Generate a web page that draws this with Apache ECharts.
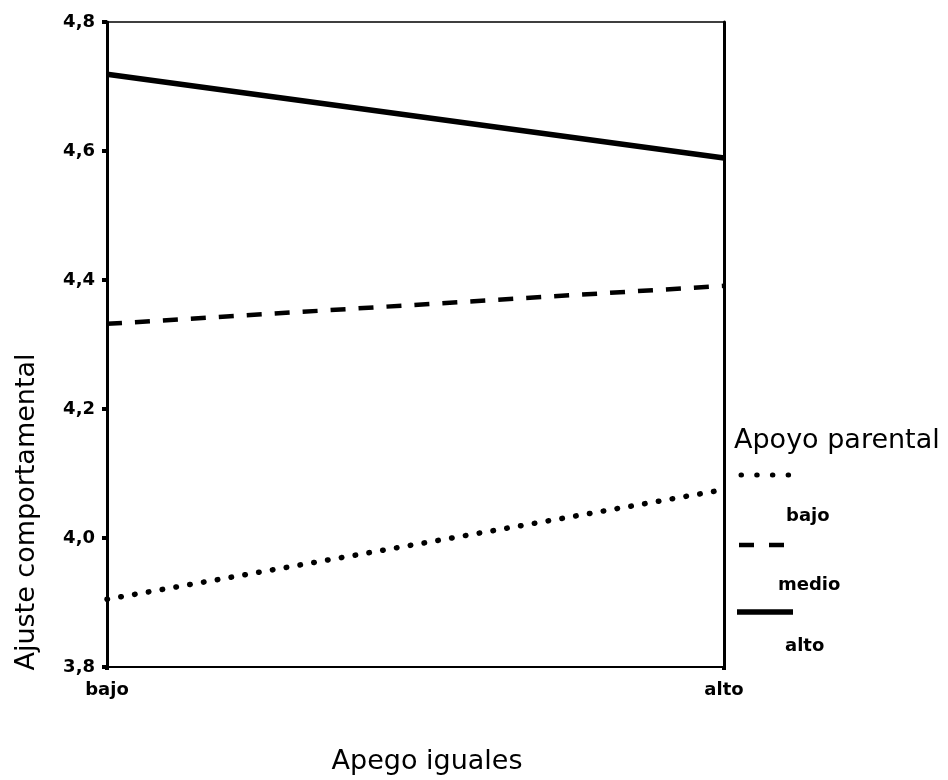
<!DOCTYPE html>
<html>
<head>
<meta charset="utf-8">
<script src="https://cdn.jsdelivr.net/npm/echarts@6/dist/echarts.min.js"></script>
<style>
  html, body { margin: 0; padding: 0; background: #ffffff; }
  #chart { width: 948px; height: 780px; }
</style>
</head>
<body>
<div id="chart"></div>
<script>
// ---- data ----
var categories = ['bajo', 'alto'];
var seriesNames = ['bajo', 'medio', 'alto'];
var bajoValues = [3.905, 4.075];
var medioValues = [4.332, 4.391];
var altoValues = [4.719, 4.589];
var yMin = 3.8, yMax = 4.8, yStep = 0.2;
var xAxisTitle = 'Apego iguales';
var yAxisTitle = 'Ajuste comportamental';
var legendTitle = 'Apoyo parental';

var FONT = 'DejaVu Sans';
var dotted = { color: '#000', width: 5.5, type: [0.5, 13.5], cap: 'round' };
var dashed = { color: '#000', width: 4.5, type: [15, 13], cap: 'butt' };
var solid = { color: '#000', width: 5.5, type: 'solid' };

var chart = echarts.init(document.getElementById('chart'), null, { renderer: 'canvas' });

var option = {
  backgroundColor: '#ffffff',
  animation: false,
  grid: { left: 107, right: 224, top: 22, bottom: 113, show: true, borderColor: '#000', borderWidth: 1.5, backgroundColor: 'transparent' },
  xAxis: {
    type: 'category',
    data: categories,
    boundaryGap: false,
    axisLine: { lineStyle: { color: '#000', width: 2 } },
    axisTick: { show: true, length: 3, lineStyle: { color: '#000', width: 4 } },
    axisLabel: { color: '#000', fontFamily: FONT, fontWeight: 'bold', fontSize: 18, margin: 14 },
    splitLine: { show: false }
  },
  yAxis: [{
    type: 'value',
    min: yMin, max: yMax, interval: yStep,
    axisLine: { show: true, lineStyle: { color: '#000', width: 3 } },
    axisTick: { show: true, length: 5, lineStyle: { color: '#000', width: 4 } },
    axisLabel: {
      color: '#000', fontFamily: FONT, fontWeight: 'bold', fontSize: 18, margin: 12,
      formatter: function (v) { return v.toFixed(1).replace('.', ','); }
    },
    splitLine: { show: false }
  }, {
    type: 'value', position: 'right',
    min: yMin, max: yMax, interval: yStep,
    axisLine: { show: true, lineStyle: { color: '#000', width: 3 } },
    axisTick: { show: false }, axisLabel: { show: false }, splitLine: { show: false }
  }],
  series: [
    { name: seriesNames[0], type: 'line', data: bajoValues, symbol: 'none', lineStyle: dotted, z: 3 },
    { name: seriesNames[1], type: 'line', data: medioValues, symbol: 'none', lineStyle: dashed, z: 3 },
    { name: seriesNames[2], type: 'line', data: altoValues, symbol: 'none', lineStyle: solid, z: 3 }
  ],
  graphic: [
    { type: 'text', x: 27, y: 512, rotation: Math.PI / 2,
      style: { text: yAxisTitle, fill: '#000', font: '27px "' + FONT + '"', textAlign: 'center', textVerticalAlign: 'middle' } },
    { type: 'text', x: 427, y: 762,
      style: { text: xAxisTitle, fill: '#000', font: '27px "' + FONT + '"', textAlign: 'center', textVerticalAlign: 'middle' } },
    { type: 'text', x: 734, y: 441,
      style: { text: legendTitle, fill: '#000', font: '27px "' + FONT + '"', textAlign: 'left', textVerticalAlign: 'middle' } },
    { type: 'line', shape: { x1: 741, y1: 475, x2: 789, y2: 475 },
      style: { stroke: '#000', lineWidth: 5, lineDash: [0.5, 15.2], lineCap: 'round' } },
    { type: 'text', x: 786, y: 516,
      style: { text: seriesNames[0], fill: '#000', font: 'bold 18px "' + FONT + '"', textAlign: 'left', textVerticalAlign: 'middle' } },
    { type: 'line', shape: { x1: 739, y1: 545, x2: 786, y2: 545 },
      style: { stroke: '#000', lineWidth: 4.5, lineDash: [15, 15] } },
    { type: 'text', x: 778, y: 585,
      style: { text: seriesNames[1], fill: '#000', font: 'bold 18px "' + FONT + '"', textAlign: 'left', textVerticalAlign: 'middle' } },
    { type: 'line', shape: { x1: 737, y1: 612, x2: 793, y2: 612 },
      style: { stroke: '#000', lineWidth: 5.5 } },
    { type: 'text', x: 785, y: 646,
      style: { text: seriesNames[2], fill: '#000', font: 'bold 18px "' + FONT + '"', textAlign: 'left', textVerticalAlign: 'middle' } }
  ]
};
chart.setOption(option);
</script>
</body>
</html>
